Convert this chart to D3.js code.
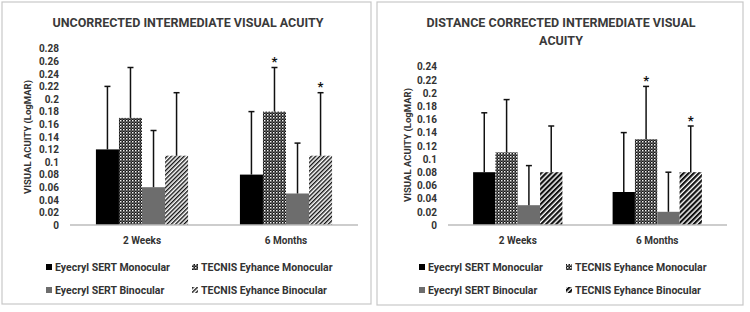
<!DOCTYPE html>
<html>
<head>
<meta charset="utf-8">
<script src="https://cdn.jsdelivr.net/npm/d3@7"></script>
<style>
  body { margin: 0; background: #fff; }
</style>
</head>
<body>
<script>
// data
var categories = ["2 Weeks", "6 Months"];
var seriesNames = ["Eyecryl SERT Monocular", "TECNIS Eyhance Monocular", "Eyecryl SERT Binocular", "TECNIS Eyhance Binocular"];

// uncorrected (left)
var uncorrectedMeans = [[0.12, 0.17, 0.06, 0.11], [0.08, 0.18, 0.05, 0.11]];
var uncorrectedSD = [[0.10, 0.08, 0.09, 0.10], [0.10, 0.07, 0.08, 0.10]];
var uncorrectedTicks = [0, 0.02, 0.04, 0.06, 0.08, 0.1, 0.12, 0.14, 0.16, 0.18, 0.2, 0.22, 0.24, 0.26, 0.28];
var uncorrectedStars = [[false, false, false, false], [false, true, false, true]];

// distance corrected (right)
var correctedMeans = [[0.08, 0.11, 0.03, 0.08], [0.05, 0.13, 0.02, 0.08]];
var correctedSD = [[0.09, 0.08, 0.06, 0.07], [0.09, 0.08, 0.06, 0.07]];
var correctedTicks = [0, 0.02, 0.04, 0.06, 0.08, 0.1, 0.12, 0.14, 0.16, 0.18, 0.2, 0.22, 0.24];
var correctedStars = [[false, false, false, false], [false, true, false, true]];

var FONT = "Roboto, Lato, sans-serif";

var svg = d3.select("body").append("svg").attr("width", 750).attr("height", 312)
  .attr("font-family", FONT).attr("font-weight", 700);
var defs = svg.append("defs");

// checker pattern (white dots on black)
var chk = defs.append("pattern").attr("id", "checker").attr("patternUnits", "userSpaceOnUse")
  .attr("width", 3).attr("height", 3);
chk.append("rect").attr("width", 3).attr("height", 3).attr("fill", "#151515");
chk.append("rect").attr("x", 0).attr("y", 0).attr("width", 1.5).attr("height", 1.5).attr("fill", "#f2f2f2");
chk.append("rect").attr("x", 1.5).attr("y", 1.5).attr("width", 1.2).attr("height", 1.2).attr("fill", "#9a9a9a");

// light upward diagonal
var lightDiag = defs.append("pattern").attr("id", "lightDiag").attr("patternUnits", "userSpaceOnUse")
  .attr("width", 3).attr("height", 4).attr("patternTransform", "rotate(45)");
lightDiag.append("rect").attr("width", 3).attr("height", 4).attr("fill", "#fff");
lightDiag.append("rect").attr("width", 1.4).attr("height", 4).attr("fill", "#111");

// dark upward diagonal
var darkDiag = defs.append("pattern").attr("id", "darkDiag").attr("patternUnits", "userSpaceOnUse")
  .attr("width", 3.6).attr("height", 4).attr("patternTransform", "rotate(45)");
darkDiag.append("rect").attr("width", 3.6).attr("height", 4).attr("fill", "#fff");
darkDiag.append("rect").attr("width", 2.2).attr("height", 4).attr("fill", "#111");

var textColor = "#333";

function drawPanel(p) {
  var g = svg.append("g");

  // panel border
  g.append("rect").attr("x", p.box[0]).attr("y", p.box[1]).attr("width", p.box[2]).attr("height", p.box[3])
    .attr("fill", "#fff").attr("stroke", "#c8c8c8").attr("stroke-width", 1.2);

  // title
  var t = g.append("text").attr("x", p.titleX).attr("y", p.titleY).attr("text-anchor", "middle")
    .attr("font-size", 12.5).attr("fill", "#3a3a3a");
  p.title.forEach(function (line, i) {
    t.append("tspan").attr("x", p.titleX).attr("dy", i == 0 ? 0 : 18).text(line);
  });

  var y = d3.scaleLinear().domain([0, p.max]).range([225, 225 - p.tickStep * (p.ticks.length - 1)]);
  var x0 = d3.scaleBand().domain(categories).range(p.xRange);
  var groupW = x0.bandwidth() * 0.64;
  var x1 = d3.scaleBand().domain(d3.range(seriesNames.length)).range([0, groupW]);

  // y axis (labels only)
  var yAxis = d3.axisLeft(y).tickValues(p.ticks).tickSize(0).tickPadding(0)
    .tickFormat(function (d) { return String(+d.toFixed(2)); });
  var ya = g.append("g").attr("transform", "translate(" + p.yLabelX + ",0)").call(yAxis);
  ya.select(".domain").remove();
  ya.attr("font-family", FONT).attr("font-size", 10);
  ya.selectAll("text").attr("fill", textColor).attr("font-weight", 700);

  // y title
  g.append("text").attr("transform", "translate(" + p.yTitleX + "," + p.yTitleY + ") rotate(-90)")
    .attr("text-anchor", "middle").attr("dy", "0.35em").attr("font-size", 9.5).attr("fill", textColor)
    .text("VISUAL ACUITY (LogMAR)");

  // bars
  categories.forEach(function (cat, ci) {
    var gx = x0(cat) + (x0.bandwidth() - groupW) / 2;
    seriesNames.forEach(function (s, si) {
      var v = p.means[ci][si];
      var bx = gx + x1(si);
      g.append("rect").attr("x", bx).attr("y", y(v)).attr("width", x1.bandwidth()).attr("height", y(0) - y(v))
        .attr("fill", p.fills[si]);
    });
  });

  // x axis line
  g.append("line").attr("x1", p.xRange[0]).attr("x2", p.xRange[1]).attr("y1", y(0)).attr("y2", y(0))
    .attr("stroke", "#bdbdbd").attr("stroke-width", 1.5);

  // error bars and stars
  categories.forEach(function (cat, ci) {
    var gx = x0(cat) + (x0.bandwidth() - groupW) / 2;
    seriesNames.forEach(function (s, si) {
      var v = p.means[ci][si], e = p.sd[ci][si];
      var cx = gx + x1(si) + x1.bandwidth() / 2;
      g.append("line").attr("x1", cx).attr("x2", cx).attr("y1", y(v)).attr("y2", y(v + e))
        .attr("stroke", "#111").attr("stroke-width", 1.5);
      g.append("line").attr("x1", cx - 3).attr("x2", cx + 3).attr("y1", y(v + e)).attr("y2", y(v + e))
        .attr("stroke", "#111").attr("stroke-width", 1.5);
      if (p.stars[ci][si]) {
        g.append("text").attr("x", cx).attr("y", y(v + e) - 1.5).attr("text-anchor", "middle")
          .attr("font-size", 13).attr("fill", "#111").text("*");
      }
    });
    g.append("text").attr("x", x0(cat) + x0.bandwidth() / 2).attr("y", 244).attr("text-anchor", "middle")
      .attr("font-size", 10).attr("fill", textColor).text(cat);
  });

  // legend
  seriesNames.forEach(function (s, si) {
    var col = si % 2, row = Math.floor(si / 2);
    var lx = p.legendX[col], ly = 271 + row * 23;
    g.append("rect").attr("x", lx).attr("y", ly - 7).attr("width", 6).attr("height", 6).attr("fill", p.fills[si]);
    g.append("text").attr("x", lx + 9).attr("y", ly).attr("font-size", 10.5).attr("fill", textColor).text(s);
  });
}

drawPanel({
  box: [2, 2, 369, 302],
  title: ["UNCORRECTED INTERMEDIATE VISUAL ACUITY"],
  titleX: 188, titleY: 27,
  max: 0.28, ticks: uncorrectedTicks, tickStep: 12.6,
  xRange: [70, 358], yLabelX: 59, yTitleX: 28, yTitleY: 137,
  means: uncorrectedMeans, sd: uncorrectedSD, stars: uncorrectedStars,
  fills: ["#000", "url(#checker)", "#6d6d6d", "url(#lightDiag)"],
  legendX: [46, 192]
});

drawPanel({
  box: [377, 2, 366, 303],
  title: ["DISTANCE CORRECTED INTERMEDIATE VISUAL", "ACUITY"],
  titleX: 561, titleY: 27,
  max: 0.24, ticks: correctedTicks, tickStep: 13.2,
  xRange: [448, 727], yLabelX: 437, yTitleX: 408, yTitleY: 145,
  means: correctedMeans, sd: correctedSD, stars: correctedStars,
  fills: ["#000", "url(#checker)", "#6d6d6d", "url(#darkDiag)"],
  legendX: [419, 566]
});
</script>
</body>
</html>
